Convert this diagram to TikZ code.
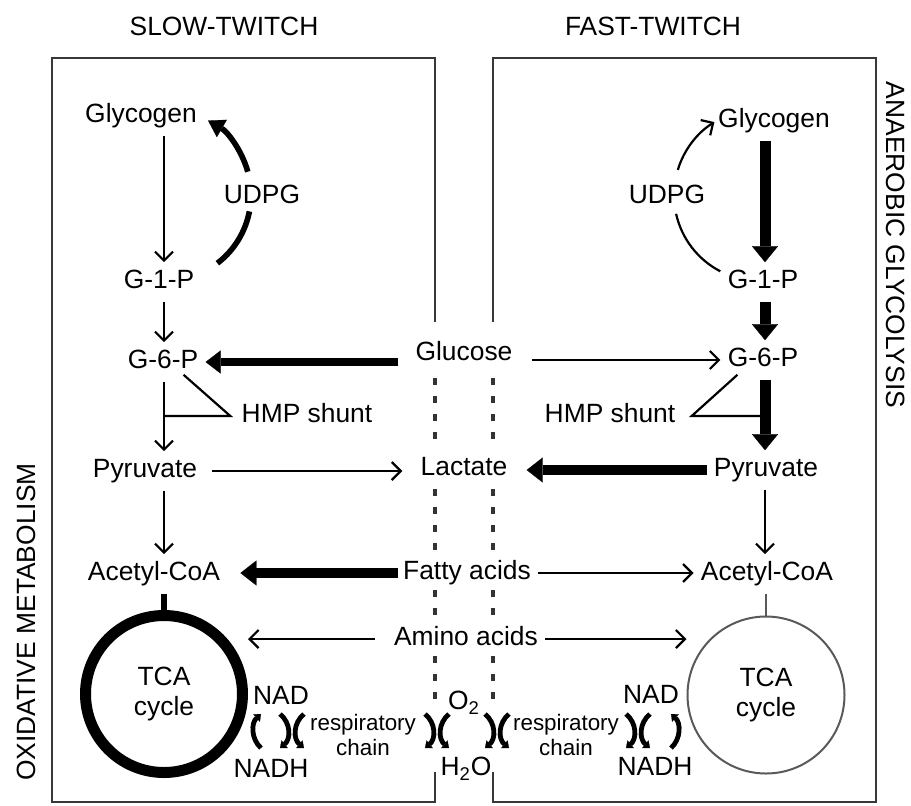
\documentclass[tikz,border=0pt]{standalone}
\usepackage{fontspec}
\setmainfont{Liberation Sans}
\usetikzlibrary{arrows.meta}
\begin{document}
\begin{tikzpicture}[x=0.5pt,y=-0.5pt,
  vlbl/.style={font=\fontsize{13.2}{15}\selectfont, inner sep=3.5pt, text height=9.6pt, text depth=2.8pt},
  lbl/.style={vlbl, yshift=-2pt},
  small/.style={font=\fontsize{11.2}{12.5}\selectfont, align=center, inner sep=0pt},
  tcac/.style={circle, draw, font=\fontsize{13.2}{15}\selectfont, align=center, minimum size=78.5pt, inner sep=0pt},
  boxline/.style={line width=1.4pt, draw=black!78},
  dotline/.style={line width=1.8pt, draw=black!80, dash pattern=on 3.5pt off 5.5pt},
  thinline/.style={line width=1.1pt},
  thinarr/.style={line width=1.1pt, -{Straight Barb[length=4.5pt,width=9pt]}},
  thickarr/.style={line width=5pt, -{Triangle[length=8pt,width=12.5pt,line width=0.1pt]}},
  thickv/.style={line width=5.5pt, -{Triangle[length=8pt,width=13pt,line width=0.1pt]}},
  udpgthick/.style={line width=2.8pt},
  couple/.style={line width=2.4pt, -{Triangle[length=3pt,width=5pt,line width=0.1pt]}},
  pics/xpair/.style={code={
    \draw[couple] (-12,-17) .. controls (-1,-8) and (-1,8) .. (-12,17);
    \draw[couple] (12,-17) .. controls (1,-8) and (1,8) .. (12,17);
  }},
  pics/lonel/.style={code={
    \draw[couple] (4,17) .. controls (-6,8) and (-6,-8) .. (4,-17);
  }},
  pics/loner/.style={code={
    \draw[couple] (-4,17) .. controls (6,8) and (6,-8) .. (-4,-17);
  }}
]
\useasboundingbox (0,0) rectangle (911,805);

% titles
\node[lbl] (tslow) at (224,25) {SLOW-TWITCH};
\node[lbl] (tfast) at (653,25) {FAST-TWITCH};
\node[vlbl,rotate=-90] (anaer) at (893,245) {ANAEROBIC GLYCOLYSIS};
\node[vlbl,rotate=90] (oxid) at (29,622) {OXIDATIVE METABOLISM};

% boxes
\draw[boxline] (435,322) -- (435,58) -- (52,58) -- (52,802) -- (435,802) -- (435,772);
\draw[boxline] (493,322) -- (493,58) -- (876,58) -- (876,802) -- (493,802) -- (493,772);

% dotted membrane lines
\foreach \x in {435,493} {
  \draw[dotline] (\x,378) -- (\x,445);
  \draw[dotline] (\x,489) -- (\x,552);
  \draw[dotline] (\x,590) -- (\x,622);
  \draw[dotline] (\x,656) -- (\x,705);
}

\coordinate (colL) at (164,0);
\coordinate (colR) at (765,0);

% left column nodes
\node[lbl] (gly1) at (141,112) {Glycogen};
\node[lbl] (udpg1) at (262,193) {UDPG};
\node[lbl] (g1p1) at (159,278) {G-1-P};
\node[lbl] (g6p1) at (163,358) {G-6-P};
\node[lbl] (hmp1) at (307,412) {HMP shunt};
\node[lbl] (pyr1) at (145,467) {Pyruvate};
\node[lbl] (acl1) at (154,570) {Acetyl-CoA};
\node[tcac, line width=5.5pt] (tca1) at (164,694) {TCA\\cycle};

% right column nodes
\node[lbl] (gly2) at (774,117) {Glycogen};
\node[lbl] (udpg2) at (667,193) {UDPG};
\node[lbl] (g1p2) at (763,278) {G-1-P};
\node[lbl] (g6p2) at (763,356) {G-6-P};
\node[lbl] (hmp2) at (610,412) {HMP shunt};
\node[lbl] (pyr2) at (766,466) {Pyruvate};
\node[lbl] (acl2) at (767,570) {Acetyl-CoA};
\node[tcac, line width=1pt, draw=black!65] (tca2) at (766,695) {TCA\\cycle};

% centre nodes
\node[lbl] (glu) at (464,350) {Glucose};
\node[lbl] (lac) at (464,465) {Lactate};
\node[lbl] (fat) at (467,569) {Fatty acids};
\node[lbl] (ami) at (466,635) {Amino acids};
\node[lbl] (o2) at (464,699) {O\textsubscript{2}};
\node[lbl] (h2o) at (466,765) {H\textsubscript{2}O};

% NAD / NADH and respiratory chain
\node[lbl] (nad1) at (281,694) {NAD};
\node[lbl] (nadh1) at (271,767) {NADH};
\node[lbl] (nad2) at (651,693) {NAD};
\node[lbl] (nadh2) at (655,765) {NADH};
\node[small] (resp1) at (363,735) {respiratory\\chain};
\node[small] (resp2) at (566,735) {respiratory\\chain};

% left vertical pathway
\draw[thinarr] (gly1.south -| colL) -- (g1p1.north -| colL);
\draw[thinarr] (g1p1.south -| colL) -- (g6p1.north -| colL);
\draw[thinarr] (g6p1.south -| colL) -- (pyr1.north -| colL);
\draw[thinarr] (pyr1.south -| colL) -- (acl1.north -| colL);
\draw[line width=3pt] (acl1.south -| tca1) -- (tca1.north);

% right vertical pathway
\draw[thickv] (gly2.south -| colR) -- (g1p2.north -| colR);
\draw[thickv] (g1p2.south -| colR) -- (g6p2.north -| colR);
\draw[thickv] (g6p2.south -| colR) -- (pyr2.north -| colR);
\draw[thinarr] (pyr2.south -| colR) -- (acl2.north -| colR);
\draw[line width=1pt, black!65] (acl2.south -| tca2) -- (tca2.north);

% HMP shunts
\draw[thinline, line join=miter] ([xshift=-11pt,yshift=3.5pt]g6p1.south east) -- ([xshift=-2pt]hmp1.west) -- (hmp1.west -| colL);
\draw[thinline, line join=miter] ([xshift=8.5pt,yshift=2.5pt]g6p2.south west) -- ([xshift=4.5pt]hmp2.east) -- (hmp2.east -| colR);

% UDPG loops
\coordinate (ula) at (217.4,263.2);
\coordinate (ulb) at (249.4,211.4);
\coordinate (uua) at (247.8,171.7);
\coordinate (uub) at (208,120.5);
\draw[udpgthick] (ula) .. controls (234.1,250.4) and (245.4,232.0) .. (ulb);
\draw[udpgthick, -{Triangle[length=8pt,width=10pt,line width=0.1pt]}] (uua) .. controls (241.7,150.1) and (227.4,131.7) .. (uub);

\coordinate (rla) at (720.3,271.3);
\coordinate (rlb) at (676.1,213.8);
\coordinate (rua) at (677.8,169.9);
\coordinate (rub) at (714.4,122.1);
\draw[thinline] (rla) .. controls (697.8,259.6) and (681.6,238.6) .. (rlb);
\draw[thinarr] (rua) .. controls (683.8,150.1) and (696.8,133.1) .. (rub);

% horizontal exchanges
\draw[thickarr, line width=4pt, -{Triangle[length=7.5pt,width=11.5pt,line width=0.1pt]}, shorten <=5pt] (g6p1.east -| glu.west) -- (g6p1.east);
\draw[thinarr, shorten <=6pt] (g6p2.west -| glu.east) -- (g6p2.west);
\draw[thinarr, shorten <=4pt, shorten >=5.5pt] (pyr1.east) -- (pyr1.east -| lac.west);
\draw[thickarr, shorten >=6pt] (pyr2.west) -- (pyr2.west -| lac.east);
\draw[thickarr, shorten <=-1pt, shorten >=6.5pt] (fat.west) -- (fat.west -| acl1.east);
\draw[thinarr] (fat.east) -- (fat.east -| acl2.west);
\draw[thinarr, shorten <=6pt] (ami.west) -- (ami.west -| tca1.east);
\draw[thinarr] (ami.east) -- (ami.east -| tca2.west);

% coupled redox arcs
\pic at (257,731) {lonel};
\pic at (292,731) {xpair};
\pic at (437,731) {xpair};
\pic at (497,731) {xpair};
\pic at (638,731) {xpair};
\pic at (675,731) {loner};
\end{tikzpicture}
\end{document}
